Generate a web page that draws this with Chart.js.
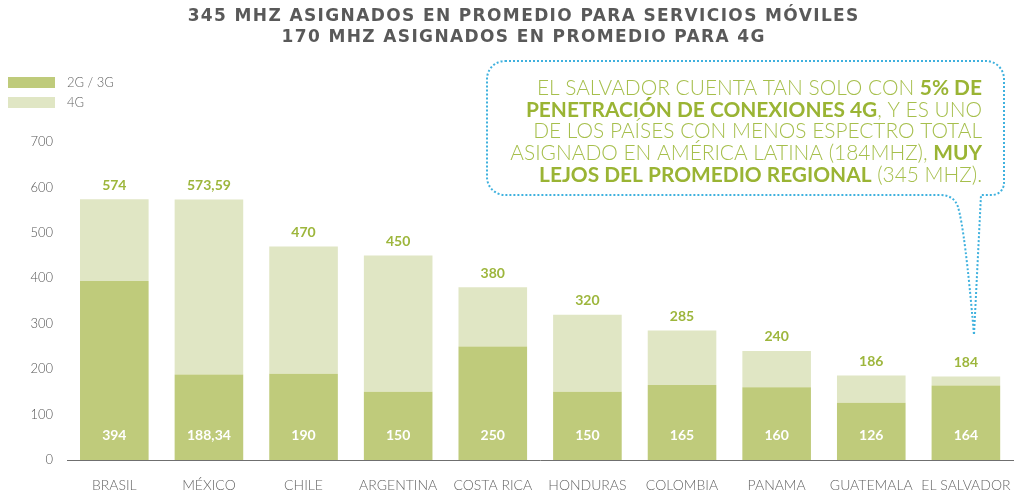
<!DOCTYPE html>
<html>
<head>
<meta charset="utf-8">
<script src="https://cdn.jsdelivr.net/npm/chart.js@4.4.1/dist/chart.umd.min.js"></script>
<style>
  html, body { margin: 0; padding: 0; background: #fff; }
</style>
</head>
<body>
<canvas id="barChart" width="1028" height="493"></canvas>
<script>
// Espectro asignado por país (MHz)
const countries = ["BRASIL", "MÉXICO", "CHILE", "ARGENTINA", "COSTA RICA", "HONDURAS", "COLOMBIA", "PANAMA", "GUATEMALA", "EL SALVADOR"];
const spectrum2G3G = [394, 188.34, 190, 150, 250, 150, 165, 160, 126, 164];
const spectrum4G = [180, 385.25, 280, 300, 130, 170, 120, 80, 60, 20];
const spectrumTotal = [574, 573.59, 470, 450, 380, 320, 285, 240, 186, 184];
const yTicks = [0, 100, 200, 300, 400, 500, 600, 700];

const titleLines = [
    "345 MHZ ASIGNADOS EN PROMEDIO PARA SERVICIOS MÓVILES",
    "170 MHZ ASIGNADOS EN PROMEDIO PARA 4G"
];
// callout lines: [text, bold]
const calloutLines = [
    [["EL SALVADOR CUENTA TAN SOLO CON ", false], ["5% DE", true]],
    [["PENETRACIÓN DE CONEXIONES 4G", true], [", Y ES UNO", false]],
    [["DE LOS PAÍSES CON MENOS ESPECTRO TOTAL", false]],
    [["ASIGNADO EN AMÉRICA LATINA (184MHZ), ", false], ["MUY", true]],
    [["LEJOS DEL PROMEDIO REGIONAL", true], [" (345 MHZ).", false]]
];

const DARK = "#bfcb7b";
const LIGHT = "#e0e6c4";
const LABEL_GREEN = "#9db63c";
const FONT = "Lato, 'Open Sans', sans-serif";

function fmt(v) {
    return String(v).replace(".", ",");
}

const overlay = {
    id: "overlay",
    afterDatasetsDraw(chart) {
        const ctx = chart.ctx;
        const base = chart.getDatasetMeta(0).data;
        const top = chart.getDatasetMeta(1).data;
        ctx.save();
        ctx.textAlign = "center";
        ctx.textBaseline = "middle";
        ctx.font = "bold 14px " + FONT;
        top.forEach((bar, i) => {
            ctx.fillStyle = LABEL_GREEN;
            const yTop = chart.scales.y.getPixelForValue(spectrumTotal[i]);
            ctx.fillText(fmt(spectrumTotal[i]), bar.x, yTop - 14);
            ctx.fillStyle = "#ffffff";
            ctx.fillText(fmt(spectrum2G3G[i]), base[i].x, chart.scales.y.getPixelForValue(0) - 25);
        });
        ctx.restore();
    },
    afterDraw(chart) {
        const ctx = chart.ctx;
        ctx.save();

        // title: wide bold face, spacing stretched to the reference width
        ctx.fillStyle = "#595959";
        ctx.textAlign = "left";
        ctx.textBaseline = "middle";
        ctx.font = "bold 17px 'DejaVu Sans', sans-serif";
        ctx.letterSpacing = "0px";
        const raw = ctx.measureText(titleLines[0]).width;
        const spacing = Math.max(0, (672 - raw) / titleLines[0].length);
        ctx.letterSpacing = spacing.toFixed(2) + "px";
        titleLines.forEach((t, i) => {
            const w = ctx.measureText(t).width - spacing;
            ctx.fillText(t, 523 - w / 2, 17 + i * 21);
        });
        ctx.letterSpacing = "0px";

        // legend
        const sets = chart.data.datasets;
        ctx.font = "300 13px " + FONT;
        sets.forEach((ds, i) => {
            const y = 77 + i * 20;
            ctx.fillStyle = ds.backgroundColor;
            ctx.fillRect(8, y, 47, 11);
            ctx.fillStyle = "#666666";
            ctx.fillText(ds.label, 67, y + 6);
        });

        // callout bubble
        const L = 487, T = 61, R = 1004, B = 195, r = 18;
        ctx.beginPath();
        ctx.moveTo(L + r, T);
        ctx.lineTo(R - r, T);
        ctx.arcTo(R, T, R, T + r, r);
        ctx.lineTo(R, B - 12);
        ctx.arcTo(R, B, R - 12, B, 12);
        ctx.lineTo(981, B);
        ctx.lineTo(974, 335);
        ctx.quadraticCurveTo(965, 230, 958, 207);
        ctx.quadraticCurveTo(954, B, 940, B);
        ctx.lineTo(L + r, B);
        ctx.arcTo(L, B, L, B - r, r);
        ctx.lineTo(L, T + r);
        ctx.arcTo(L, T, L + r, T, r);
        ctx.closePath();
        ctx.setLineDash([2, 2]);
        ctx.lineWidth = 2;
        ctx.strokeStyle = "#3fb1de";
        ctx.stroke();
        ctx.setLineDash([]);

        // callout text, right aligned
        const segFont = (bold, size) => (bold ? "bold " : "300 ") + size.toFixed(2) + "px " + FONT;
        const lineWidth = (line, size) => line.reduce((w, s) => {
            ctx.font = segFont(s[1], size);
            return w + ctx.measureText(s[0]).width;
        }, 0);
        const cSize = 100 * 472 / lineWidth(calloutLines[3], 100);
        const lineY = [88, 110, 131, 153, 175];
        calloutLines.forEach((line, i) => {
            let x = 982 - lineWidth(line, cSize);
            line.forEach(s => {
                ctx.font = segFont(s[1], cSize);
                ctx.fillStyle = s[1] ? "#9ab434" : "#a6bf4c";
                ctx.fillText(s[0], x, lineY[i]);
                x += ctx.measureText(s[0]).width;
            });
        });

        ctx.restore();
    }
};

new Chart(document.getElementById("barChart"), {
    type: "bar",
    data: {
        labels: countries,
        datasets: [
            {
                label: "2G / 3G",
                backgroundColor: DARK,
                data: spectrum2G3G,
                barPercentage: 0.725,
                categoryPercentage: 1
            },
            {
                label: "4G",
                backgroundColor: LIGHT,
                data: spectrum4G,
                barPercentage: 0.725,
                categoryPercentage: 1
            }
        ]
    },
    options: {
        responsive: false,
        animation: false,
        layout: { padding: { top: 142, right: 10, left: 0, bottom: 0 } },
        plugins: {
            legend: { display: false },
            title: { display: false },
            tooltip: { enabled: false }
        },
        scales: {
            x: {
                stacked: true,
                grid: { display: false, drawTicks: false },
                border: { display: true, color: "#6f6f6f", width: 1 },
                ticks: {
                    color: "#666666",
                    font: { family: FONT, size: 14, weight: "300" },
                    padding: 17,
                    maxRotation: 0,
                    autoSkip: false
                },
                afterFit(scale) { scale.height = 33; }
            },
            y: {
                stacked: true,
                min: yTicks[0],
                max: yTicks[yTicks.length - 1],
                grid: { display: false, drawTicks: false },
                border: { display: false },
                afterBuildTicks(scale) { scale.ticks = yTicks.map(v => ({ value: v })); },
                ticks: {
                    color: "#555555",
                    font: { family: FONT, size: 13, weight: "300" },
                    padding: 14
                },
                afterFit(scale) { scale.width = 67; }
            }
        }
    },
    plugins: [overlay]
});
</script>
</body>
</html>
